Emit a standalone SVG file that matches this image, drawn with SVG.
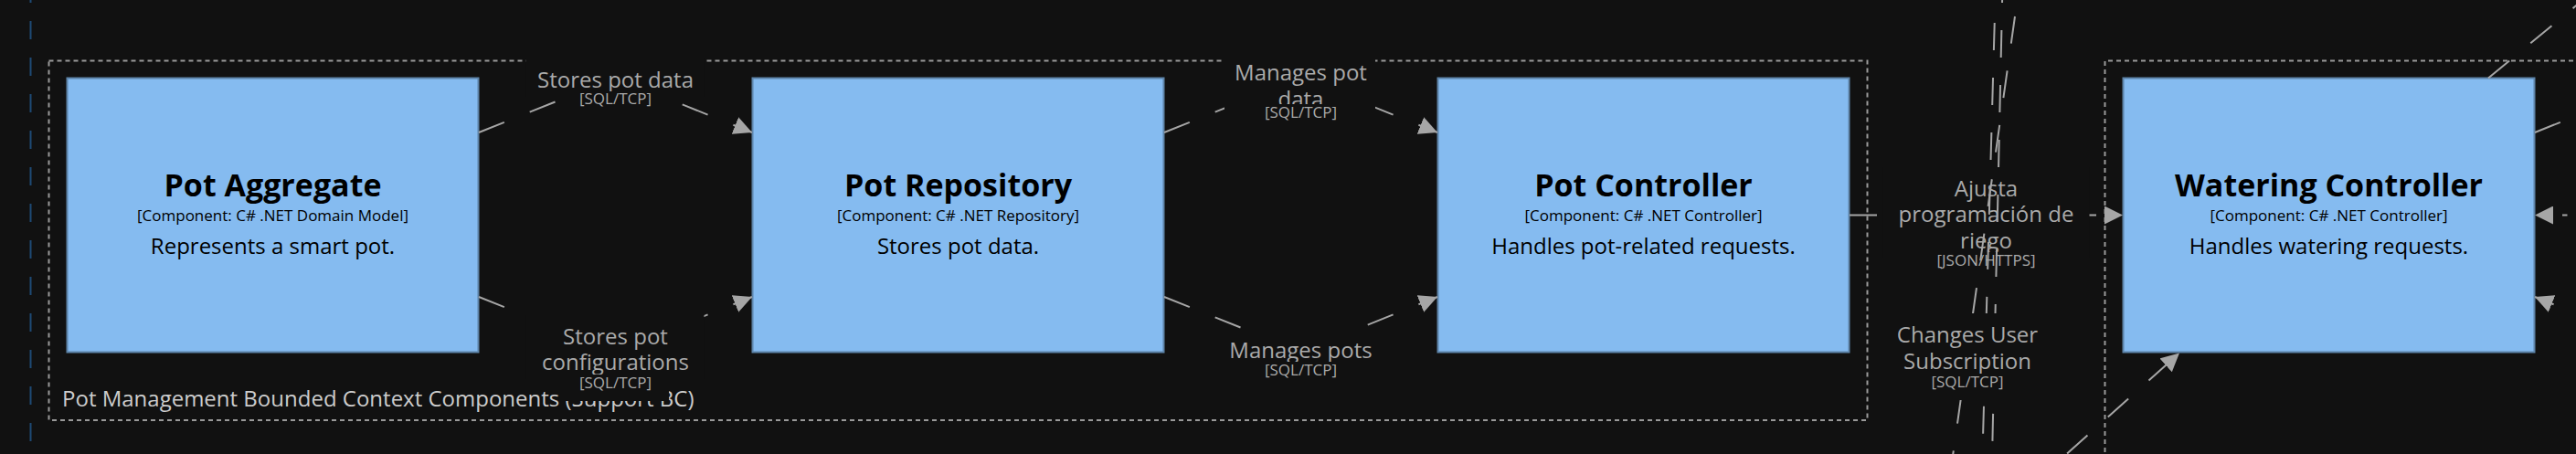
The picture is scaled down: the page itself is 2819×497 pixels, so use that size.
<svg xmlns="http://www.w3.org/2000/svg" width="2819" height="497" viewBox="0 0 2819 497">
<defs>
<style>
.box{fill:#85bbf0;stroke:#5d83a8;stroke-width:2}
.t{font-family:"Open Sans","Noto Sans","Liberation Sans",sans-serif;text-anchor:middle}
.name{font-size:34px;font-weight:bold;fill:#000}
.meta{font-size:17px;fill:#000}
.desc{font-size:24px;fill:#000}
.rel{fill:none;stroke:#a6a6a6;stroke-width:2;stroke-dasharray:30 30}
.rl{font-size:24px;fill:#aaaaaa}
.rt{font-size:17px;fill:#aaaaaa}
.lbg{fill:#111111}
.bnd{fill:none;stroke:#9a9a9a;stroke-width:2;stroke-dasharray:5 4}
.bl{font-family:"Open Sans","Noto Sans","Liberation Sans",sans-serif;font-size:24px;fill:#cccccc}
</style>
<marker id="ah" viewBox="0 0 20 20" refX="20" refY="10" markerWidth="20" markerHeight="20" markerUnits="userSpaceOnUse" orient="auto">
<path d="M0,0 L20,10 L0,20 z" fill="#a6a6a6"/>
</marker>
</defs>
<rect x="0" y="0" width="2819" height="497" fill="#111111"/>
<path d="M33.5,-17 L33.5,520" fill="none" stroke="#1e4a75" stroke-width="2" stroke-dasharray="20 20"/>
<g id="boundary-pot-management">
<rect class="bnd" x="53.5" y="66.5" width="1990" height="393.5"/>
<text class="bl" x="68" y="445">Pot Management Bounded Context Components (Support BC)</text>
</g>
<g id="boundary-right">
<path class="bnd" d="M2303.5,540 L2303.5,66.5 L2900,66.5"/>
</g>
<g id="pot-aggregate">
<rect class="box" x="73.5" y="85.5" width="450" height="300"/>
<text class="t name" x="298.5" y="215">Pot Aggregate</text>
<text class="t meta" x="298.5" y="242">[Component: C# .NET Domain Model]</text>
<text class="t desc" x="298.5" y="278">Represents a smart pot.</text>
</g>
<g id="pot-repository">
<rect class="box" x="823.5" y="85.5" width="450" height="300"/>
<text class="t name" x="1048.5" y="215">Pot Repository</text>
<text class="t meta" x="1048.5" y="242">[Component: C# .NET Repository]</text>
<text class="t desc" x="1048.5" y="278">Stores pot data.</text>
</g>
<g id="pot-controller">
<rect class="box" x="1573.5" y="85.5" width="450" height="300"/>
<text class="t name" x="1798.5" y="215">Pot Controller</text>
<text class="t meta" x="1798.5" y="242">[Component: C# .NET Controller]</text>
<text class="t desc" x="1798.5" y="278">Handles pot-related requests.</text>
</g>
<g id="watering-controller">
<rect class="box" x="2323.5" y="85.5" width="450" height="300"/>
<text class="t name" x="2548.5" y="215">Watering Controller</text>
<text class="t meta" x="2548.5" y="242">[Component: C# .NET Controller]</text>
<text class="t desc" x="2548.5" y="278">Handles watering requests.</text>
</g>
<g id="connectors">
<g id="rel-stores-pot-data">
<path class="rel" d="M524,145 L673.5,85 L823,145" marker-end="url(#ah)"/>
<rect class="lbg" x="575.5" y="64" width="195" height="42"/>
<text class="t rl" x="673.5" y="96">Stores pot data</text>
<rect class="lbg" x="615" y="100" width="117" height="29"/>
<text class="t rt" x="673.5" y="114">[SQL/TCP]</text>
</g>
<g id="rel-stores-pot-config">
<path class="rel" d="M524,325 L673.5,385 L823,325" marker-end="url(#ah)"/>
<rect class="lbg" x="575.5" y="345" width="195" height="70"/>
<text class="t rl" x="673.5" y="377">Stores pot</text>
<text class="t rl" x="673.5" y="405">configurations</text>
<rect class="lbg" x="615" y="410" width="117" height="29"/>
<text class="t rt" x="673.5" y="425">[SQL/TCP]</text>
</g>
<g id="rel-manages-pot-data">
<path class="rel" d="M1274,145 L1423.5,85 L1573,145" marker-end="url(#ah)"/>
<rect class="lbg" x="1340" y="56" width="165" height="71"/>
<text class="t rl" x="1423.5" y="88">Manages pot</text>
<text class="t rl" x="1423.5" y="117">data</text>
<rect class="lbg" x="1365" y="114" width="117" height="29"/>
<text class="t rt" x="1423.5" y="129">[SQL/TCP]</text>
</g>
<g id="rel-manages-pots">
<path class="rel" d="M1274,325 L1423.5,385 L1573,325" marker-end="url(#ah)"/>
<rect class="lbg" x="1330" y="360" width="187" height="42"/>
<text class="t rl" x="1423.5" y="392">Manages pots</text>
<rect class="lbg" x="1365" y="396" width="117" height="29"/>
<text class="t rt" x="1423.5" y="411">[SQL/TCP]</text>
</g>
<g id="rel-ajusta">
<path class="rel" d="M2024,235.5 L2323,235.5" marker-end="url(#ah)"/>
<rect class="lbg" x="2060.5" y="183" width="226" height="99"/>
<text class="t rl" x="2173.5" y="215">Ajusta</text>
<text class="t rl" x="2173.5" y="243">programación de</text>
<text class="t rl" x="2173.5" y="272">riego</text>
<rect class="lbg" x="2101" y="276" width="145" height="29"/>
<text class="t rt" x="2173.5" y="291">[JSON/HTTPS]</text>
</g>
<path id="rel-pass-a" class="rel" d="M2184.4,-35 L2168.3,540"/>
<path id="rel-pass-b" class="rel" d="M2191.7,-27 L2179.1,543"/>
<g id="rel-changes-subscription">
<path class="rel" d="M2213.4,-41.4 L2131.2,540"/>
<rect class="lbg" x="2062" y="343" width="184" height="71"/>
<text class="t rl" x="2153" y="375">Changes User</text>
<text class="t rl" x="2153" y="404">Subscription</text>
<rect class="lbg" x="2095" y="409" width="116" height="29"/>
<text class="t rt" x="2153" y="424">[SQL/TCP]</text>
</g>
<path id="rel-into-watering-bottom" class="rel" d="M2217.4,536.6 L2385,386.5" marker-end="url(#ah)"/>
<path id="rel-watering-top-out" class="rel" d="M2723,85.5 L2850,-19.3"/>
<path id="rel-watering-right-out" class="rel" d="M2774,145 L2923.5,85 L3073,145"/>
<path id="rel-watering-right-in" class="rel" d="M2809.5,235.5 L2774,235.5" style="stroke-dasharray:5.5 60" marker-end="url(#ah)"/>
<path id="rel-watering-lower-in" class="rel" d="M3073,325 L2923.5,385 L2774,325" marker-end="url(#ah)"/>
</g>
</svg>
